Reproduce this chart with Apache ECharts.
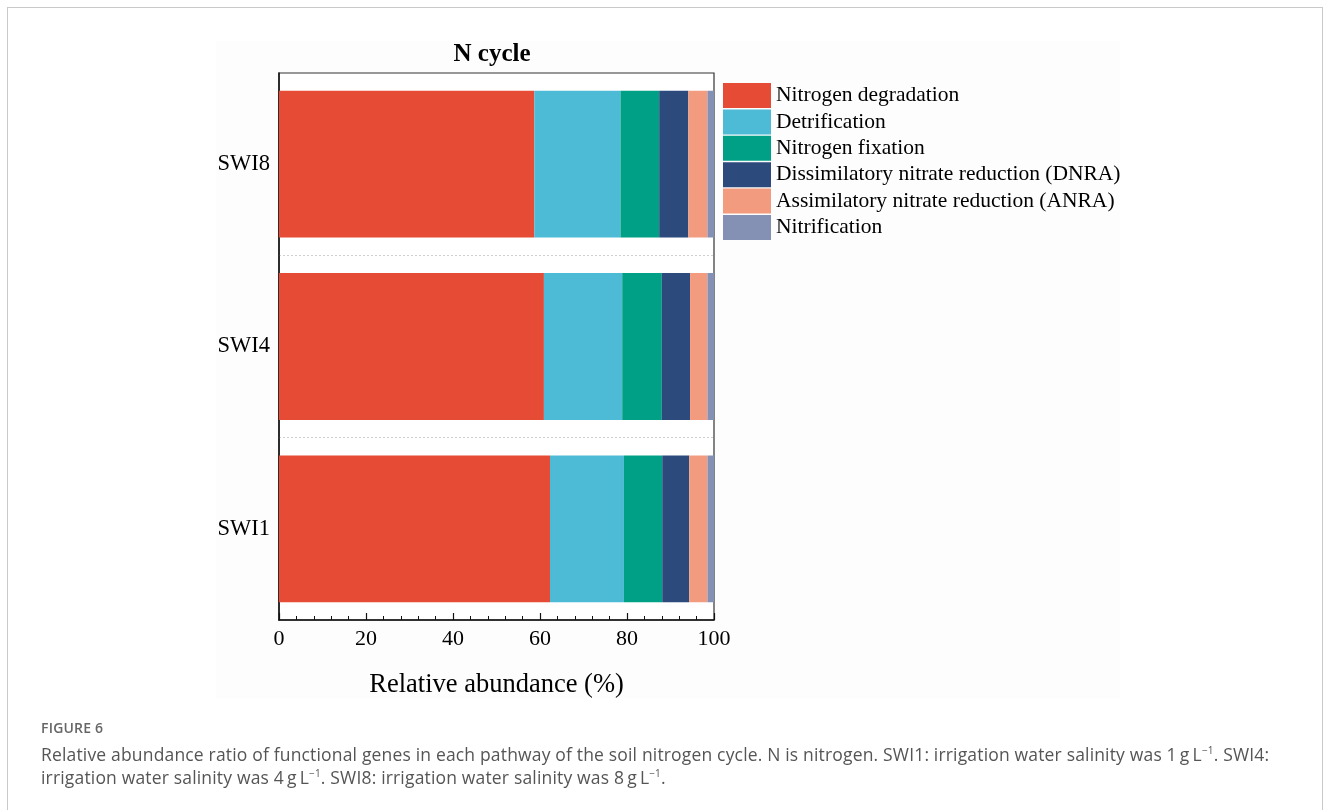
<!DOCTYPE html>
<html>
<head>
<meta charset="utf-8">
<script src="https://cdn.jsdelivr.net/npm/echarts@6/dist/echarts.min.js"></script>
<style>
  html, body { margin: 0; padding: 0; background: #fff; width: 1330px; height: 810px; overflow: hidden; }
  #frame { position: absolute; left: 7px; top: 7px; width: 1316px; height: 900px; border: 1px solid #c9c9c9; box-sizing: border-box; }
  #chart { position: absolute; left: 0; top: 0; width: 1330px; height: 810px; }
  #figlabel { position: absolute; left: 41px; top: 718px; font-family: "Open Sans", "Noto Sans", sans-serif; font-size: 14px; font-weight: 600; color: #666; letter-spacing: 0.2px; }
  #caption { position: absolute; left: 41px; top: 743px; width: 1280px; font-family: "Open Sans", "Noto Sans", sans-serif; font-size: 17.5px; line-height: 23px; color: #555; white-space: nowrap; letter-spacing: 0.17px; }
  #caption sup { font-size: 10px; line-height: 0; vertical-align: 7px; }
</style>
</head>
<body>
<div id="frame"></div>
<div id="chart"></div>
<div id="figlabel">FIGURE 6</div>
<div id="caption">Relative abundance ratio of functional genes in each pathway of the soil nitrogen cycle. N is nitrogen. SWI1: irrigation water salinity was 1&#8201;g&#8201;L<sup>−1</sup>. SWI4:<br>irrigation water salinity was 4&#8201;g&#8201;L<sup>−1</sup>. SWI8: irrigation water salinity was 8&#8201;g&#8201;L<sup>−1</sup>.</div>
<script>
// Categories (bottom to top)
const categories = ['SWI1', 'SWI4', 'SWI8'];
// Series names
const seriesNames = [
  'Nitrogen degradation',
  'Detrification',
  'Nitrogen fixation',
  'Dissimilatory nitrate reduction (DNRA)',
  'Assimilatory nitrate reduction (ANRA)',
  'Nitrification'
];
// Values (%) for SWI1, SWI4, SWI8
const nitrogenDegradation = [62.3, 60.9, 58.7];
const detrification       = [17.0, 18.0, 19.8];
const nitrogenFixation    = [8.8, 9.1, 8.9];
const dnra                = [6.2, 6.5, 6.7];
const anra                = [4.2, 4.0, 4.4];
const nitrification       = [1.5, 1.5, 1.5];
const xTicks = [0, 20, 40, 60, 80, 100];

const seriesData = [nitrogenDegradation, detrification, nitrogenFixation, dnra, anra, nitrification];
const colors = ['#E64B35', '#4DBBD5', '#00A087', '#2C4A7C', '#F39B7F', '#8491B4'];
const serif = '"Liberation Serif", "Times New Roman", serif';

const chart = echarts.init(document.getElementById('chart'), null, { renderer: 'canvas' });
chart.setOption({
  animation: false,
  backgroundColor: 'transparent',
  color: colors,
  graphic: [{
    type: 'rect', z: -10, silent: true,
    shape: { x: 216, y: 41, width: 904, height: 657 },
    style: { fill: '#fdfdfd' }
  }],
  title: {
    text: 'N cycle',
    left: 487, top: 37, textAlign: 'center',
    textStyle: { fontFamily: serif, fontSize: 25, fontWeight: 'bold', color: '#000' }
  },
  legend: {
    orient: 'vertical',
    left: 723, top: 83, padding: 0,
    icon: 'rect',
    itemWidth: 48, itemHeight: 25, itemGap: 1.4,
    textStyle: { fontFamily: serif, fontSize: 21.5, color: '#000', padding: [3, 0, 0, 0] },
    data: seriesNames
  },
  grid: {
    left: 279, top: 73, width: 435, height: 547,
    show: true, borderColor: '#333', borderWidth: 1.2, backgroundColor: '#fff',
    containLabel: false
  },
  xAxis: {
    type: 'value', min: 0, max: 100, interval: 20,
    name: 'Relative abundance (%)',
    nameLocation: 'middle', nameGap: 52,
    nameTextStyle: { fontFamily: serif, fontSize: 26.5, color: '#000' },
    axisLine: { show: true, lineStyle: { color: '#111', width: 1.5 } },
    axisTick: { show: true, inside: true, length: 7, lineStyle: { color: '#111', width: 1.2 } },
    minorTick: { show: true, splitNumber: 5, length: 4, lineStyle: { color: '#111', width: 1 } },
    axisLabel: {
      fontFamily: serif, fontSize: 22, color: '#000', margin: 8,
      customValues: xTicks
    },
    splitLine: { show: false }
  },
  yAxis: {
    type: 'category', data: categories,
    axisLine: { show: true, lineStyle: { color: '#111', width: 1.5 } },
    axisTick: { show: true, inside: true, alignWithLabel: true, length: 7, lineStyle: { color: '#111', width: 1.5 } },
    axisLabel: { fontFamily: serif, fontSize: 22.5, color: '#000', margin: 9 },
    splitLine: { show: true, showMinLine: false, showMaxLine: false, lineStyle: { color: '#cfcfcf', type: [2, 2], width: 1 } }
  },
  series: seriesNames.map((name, i) => ({
    name: name,
    type: 'bar',
    stack: 'total',
    barWidth: '80.5%',
    data: seriesData[i],
    itemStyle: { color: colors[i] }
  }))
});
</script>
</body>
</html>
